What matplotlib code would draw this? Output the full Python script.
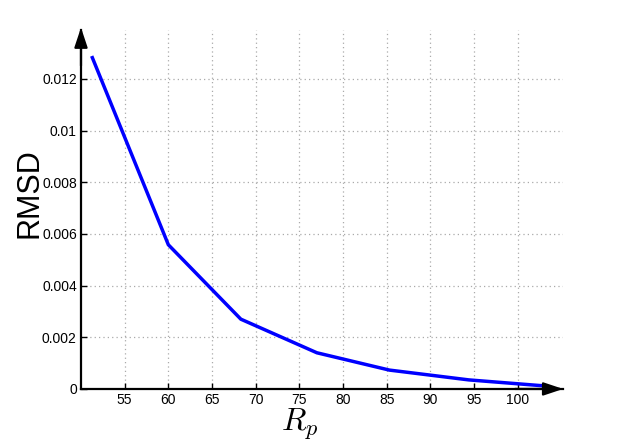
import matplotlib.pyplot as plt
from matplotlib.ticker import FixedLocator, FuncFormatter

# datos
rp = [51.3, 60.0, 68.3, 77.0, 85.3, 94.4, 102.6]
rmsd = [0.01282, 0.00558, 0.00270, 0.00140, 0.00073, 0.00035, 0.00013]
xticks = [55, 60, 65, 70, 75, 80, 85, 90, 95, 100]
yticks = [0, 0.002, 0.004, 0.006, 0.008, 0.01, 0.012]

plt.rcParams['font.family'] = ['Liberation Sans', 'DejaVu Sans']
plt.rcParams['mathtext.fontset'] = 'cm'

fig = plt.figure(figsize=(6.23, 4.44), dpi=100)
ax = fig.add_axes([0.130, 0.124, 0.774, 0.809])

ax.plot(rp, rmsd, color='#0000ff', lw=2.5, solid_joinstyle='miter')
ax.set_xlim(50, 105.2)
ax.set_ylim(0, 0.0139)

ax.xaxis.set_major_locator(FixedLocator(xticks))
ax.yaxis.set_major_locator(FixedLocator(yticks))
ax.yaxis.set_major_formatter(FuncFormatter(lambda v, p: '%g' % v))
ax.tick_params(direction='in', length=4, width=1, labelsize=10, pad=3)
ax.grid(True, color='#aaaaaa', linestyle=(0, (1, 2.5)), lw=0.9)

for s in ['top', 'right']:
    ax.spines[s].set_visible(False)
for s in ['left', 'bottom']:
    ax.spines[s].set_linewidth(1.6)

# flechas de los ejes
estilo = dict(arrowstyle='-|>,head_length=0.6,head_width=0.2', color='black', lw=1.6,
              mutation_scale=20, shrinkA=0, shrinkB=0)
ax.annotate('', xy=(1.0, 0), xytext=(0.9, 0), xycoords='axes fraction',
            arrowprops=estilo, annotation_clip=False)
ax.annotate('', xy=(0, 1.006), xytext=(0, 0.9), xycoords='axes fraction',
            arrowprops=estilo, annotation_clip=False)

fig.text(29 / 623, 1 - 193 / 444, 'RMSD', fontsize=22, rotation=90, ha='center', va='center')
fig.text(300 / 623, 1 - 424 / 444, '$R_p$', fontsize=23, ha='center', va='center')

plt.savefig('out.png')
plt.close()
